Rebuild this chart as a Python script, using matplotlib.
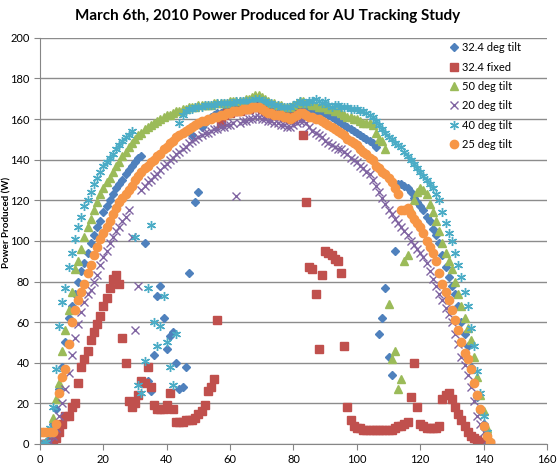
import matplotlib
matplotlib.use("Agg")
import matplotlib.pyplot as plt

# data, one value per time step (0..142)
steps = list(range(143))

tilt_32 = [0, 0, 1, 4, 10, 17, 27, 38, 50, 62,
           68, 74, 80, 85, 89, 94, 99, 103, 107, 110,
           114, 117, 120, 123, 126, 128, 130, 133, 135, 137,
           139, 141, 142, 99, 31, 26, 44, 73, 78, 62,
           47, 53, 55, 40, 27, 28, 38, 84, 152, 119,
           124, 156, 158, 160, 161, 162, 163, 163, 164, 165,
           165, 166, 166, 167, 167, 167, 168, 168, 169, 169,
           169, 168, 168, 167, 167, 166, 166, 165, 165, 164,
           164, 165, 166, 166, 166, 165, 165, 164, 164, 163,
           163, 162, 161, 160, 159, 158, 157, 156, 155, 154,
           153, 152, 151, 150, 149, 148, 146, 54, 62, 77,
           43, 34, 95, 128, 128, 127, 126, 124, 121, 119,
           117, 115, 112, 110, 106, 103, 99, 93, 87, 82,
           78, 74, 68, 60, 54, 48, 38, 30, 23, 16,
           10, 5, 1]

fixed_32 = [0, 0, 0, 0, 1, 3, 6, 10, 14, 14,
            18, 20, 30, 38, 42, 46, 51, 55, 59, 63,
            68, 72, 77, 81, 83, 79, 52, 40, 21, 18,
            20, 24, 31, 30, 38, 28, 19, 17, 17, 17,
            19, 25, 17, 11, 11, 11, 12, 12, 12, 13,
            15, 16, 19, 26, 28, 32, 61, 158, 162, 163,
            163, 164, 164, 164, 165, 165, 165, 166, 166, 166,
            165, 164, 163, 163, 162, 162, 162, 161, 161, 160,
            161, 162, 163, 152, 119, 87, 86, 74, 47, 83,
            95, 94, 93, 91, 90, 84, 48, 18, 12, 9,
            8, 8, 7, 7, 7, 7, 7, 7, 7, 7,
            7, 7, 8, 9, 9, 10, 11, 23, 40, 18,
            10, 9, 8, 8, 8, 8, 9, 22, 24, 25,
            22, 18, 15, 12, 9, 6, 4, 3, 2, 1,
            1, 0, 0]

tilt_50 = [0, 0, 1, 6, 13, 22, 30, 46, 56, 66,
           75, 86, 90, 96, 102, 107, 111, 115, 119, 123,
           126, 129, 131, 134, 137, 139, 142, 144, 146, 148,
           150, 152, 153, 155, 156, 157, 158, 159, 160, 161,
           162, 162, 163, 164, 164, 165, 165, 166, 166, 166,
           167, 167, 167, 167, 167, 168, 168, 168, 168, 168,
           169, 169, 169, 169, 169, 170, 170, 171, 172, 172,
           171, 170, 169, 168, 168, 167, 167, 166, 166, 166,
           167, 168, 169, 169, 168, 168, 167, 167, 166, 166,
           166, 165, 165, 164, 164, 163, 162, 161, 161, 160,
           160, 159, 158, 158, 158, 157, 153, 150, 149, 145,
           69, 42, 46, 27, 32, 90, 93, 115, 120, 124,
           126, 125, 123, 118, 114, 110, 105, 99, 94, 90,
           86, 80, 74, 68, 62, 57, 51, 43, 33, 24,
           16, 8, 2]

tilt_20 = [0, 0, 0, 1, 4, 8, 14, 20, 27, 35,
           44, 52, 59, 65, 70, 74, 76, 80, 83, 88,
           92, 95, 99, 102, 105, 107, 110, 112, 115, 102,
           56, 78, 125, 127, 129, 130, 132, 133, 135, 137,
           138, 140, 141, 143, 144, 145, 146, 148, 149, 150,
           151, 152, 153, 153, 154, 155, 155, 156, 156, 157,
           157, 158, 122, 158, 159, 159, 160, 160, 161, 161,
           160, 160, 159, 159, 158, 158, 157, 157, 156, 156,
           157, 158, 159, 159, 158, 156, 154, 153, 152, 151,
           149, 148, 147, 146, 145, 145, 144, 143, 141, 140,
           139, 137, 136, 134, 133, 130, 127, 124, 121, 118,
           115, 113, 111, 109, 107, 105, 103, 100, 98, 96,
           94, 92, 89, 85, 81, 78, 74, 71, 67, 64,
           60, 54, 49, 43, 39, 34, 28, 21, 14, 10,
           6, 2, 0]

tilt_40 = [0, 0, 1, 8, 18, 37, 58, 70, 77, 87,
           94, 101, 107, 112, 117, 120, 124, 128, 131, 134,
           137, 139, 141, 143, 145, 147, 149, 151, 152, 154,
           102, 29, 25, 41, 77, 108, 60, 48, 58, 73,
           50, 38, 29, 54, 158, 162, 164, 165, 165, 166,
           166, 166, 167, 167, 167, 167, 168, 168, 168, 168,
           168, 168, 169, 169, 169, 169, 169, 169, 170, 170,
           169, 169, 168, 168, 167, 167, 166, 166, 166, 166,
           167, 168, 169, 168, 168, 169, 169, 170, 169, 168,
           169, 167, 166, 167, 167, 166, 166, 166, 165, 165,
           165, 164, 164, 163, 162, 161, 159, 157, 155, 153,
           151, 150, 148, 147, 146, 144, 142, 140, 138, 136,
           134, 132, 130, 128, 126, 123, 120, 114, 109, 104,
           100, 94, 88, 82, 75, 68, 57, 48, 36, 25,
           14, 6, 1]

tilt_25 = [6, 6, 6, 6, 6, 10, 25, 33, 37, 49,
           60, 66, 71, 75, 79, 84, 88, 93, 97, 101,
           104, 107, 110, 113, 116, 119, 121, 123, 125, 127,
           130, 132, 134, 136, 137, 139, 140, 142, 143, 145,
           146, 148, 149, 151, 152, 153, 154, 155, 156, 157,
           158, 159, 159, 160, 160, 161, 161, 162, 162, 163,
           163, 164, 164, 164, 165, 165, 165, 166, 166, 166,
           165, 164, 163, 163, 162, 162, 162, 161, 161, 160,
           161, 162, 163, 163, 162, 161, 161, 160, 160, 159,
           158, 157, 156, 155, 154, 153, 152, 150, 149, 148,
           147, 145, 144, 143, 141, 140, 137, 136, 134, 133,
           131, 129, 126, 123, 115, 115, 116, 113, 111, 109,
           107, 104, 100, 97, 94, 90, 84, 79, 75, 71,
           66, 61, 56, 50, 45, 42, 37, 30, 24, 17,
           9, 4, 1]

plt.rcParams['font.family'] = ['Lato', 'DejaVu Sans']

fig = plt.figure(figsize=(5.58, 4.68), dpi=100)
ax = fig.add_axes([0.0717, 0.0513, 0.9085, 0.868])

# excel-ish star marker: 3 crossing lines
star = (6, 2, 0)

ax.plot(steps, tilt_32, linestyle='none', marker='D', ms=4.5, color='#4F81BD', label='32.4 deg tilt')
ax.plot(steps, fixed_32, linestyle='none', marker='s', ms=5.5, color='#C0504D', label='32.4 fixed')
ax.plot(steps, tilt_50, linestyle='none', marker='^', ms=6, color='#9BBB59', label='50 deg tilt')
ax.plot(steps, tilt_20, linestyle='none', marker='x', ms=5.5, mew=1, color='#8064A2', label='20 deg tilt')
ax.plot(steps, tilt_40, linestyle='none', marker=star, ms=6.5, mew=1, color='#4BACC6', label='40 deg tilt')
ax.plot(steps, tilt_25, linestyle='none', marker='o', ms=6, color='#F79646', label='25 deg tilt')

ax.set_xlim(0, 160)
ax.set_ylim(0, 200)
ax.set_xticks(range(0, 161, 20))
ax.set_yticks(range(0, 201, 20))
ax.tick_params(labelsize=8, length=4, color='#868686', direction='out')
ax.grid(axis='y', color='#8C8C8C', linewidth=1)
ax.set_axisbelow(True)
for side in ['top', 'right']:
    ax.spines[side].set_visible(False)
for side in ['left', 'bottom']:
    ax.spines[side].set_color('#868686')

ax.set_ylabel('Power Produced (W)', fontsize=7, fontweight='bold')
ax.yaxis.set_label_coords(-0.056, 0.545)
fig.suptitle('March 6th, 2010 Power Produced for AU Tracking Study', fontsize=11, fontweight='bold', x=0.48, y=0.98)

ax.legend(loc='upper left', bbox_to_anchor=(0.80, 1.0), frameon=False, fontsize=8,
          handlelength=0.8, handletextpad=0.3, labelspacing=0.75, borderaxespad=0)

fig.savefig('out.png', dpi=100)
